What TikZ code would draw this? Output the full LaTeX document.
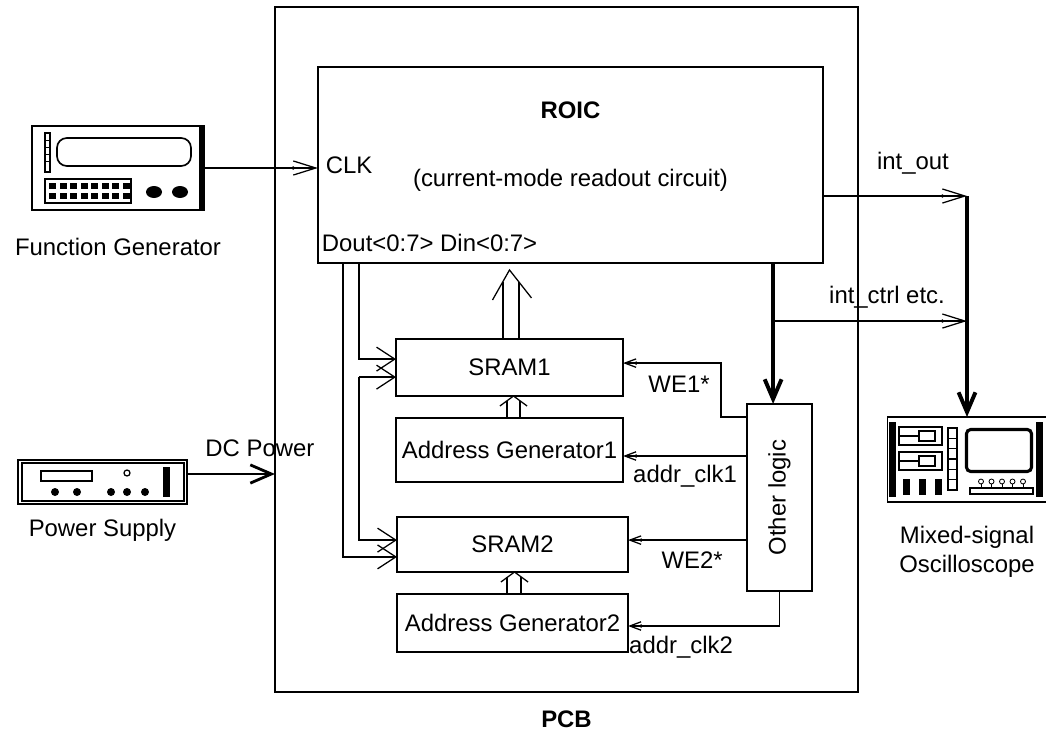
\documentclass[tikz,border=0pt]{standalone}
\usepackage{fontspec}
\setmainfont{Liberation Sans}
\usetikzlibrary{arrows.meta,positioning}

\begin{document}
\begin{tikzpicture}[x=0.025cm,y=-0.025cm,line width=0.9pt,
        every node/.style={font=\fontsize{17}{21}\selectfont,inner sep=0pt,outer sep=0pt}]
        \tikzstyle{blk}=[draw,rectangle,line width=0.9pt]
        \tikzstyle{sig}=[-{Latex[length=3pt,width=3pt,sep=-3pt]Straight Barb[length=16pt,width=10pt]}]
        \tikzstyle{busarr}=[-{Straight Barb[length=13pt,width=17pt]}]
        \tikzstyle{ctl}=[-{Latex[length=3pt,width=3pt,sep=-3pt]Straight Barb[length=8pt,width=6pt]}]
        \tikzstyle{heavy}=[line width=2.8pt,-{Straight Barb[length=14pt,width=12pt]}]
        \tikzstyle{pwr}=[line width=2pt,-{Straight Barb[length=15pt,width=13pt]}]
        \useasboundingbox (0,0) rectangle (1046,737);

        \node[blk,minimum width=14.575cm,minimum height=17.125cm] (pcb)   at (566.5,349.5) {};
        \node[blk,minimum width=12.625cm,minimum height=4.9cm]    (roic)  at (570.5,165)   {};
        \node[blk,minimum width=5.675cm,minimum height=1.425cm]   (sram1) at (509.5,367.5) {SRAM1};
        \node[blk,minimum width=5.675cm,minimum height=1.6cm]     (agen1) at (509.5,450)   {Address Generator1};
        \node[blk,minimum width=5.775cm,minimum height=1.375cm]   (sram2) at (512.5,544.5) {SRAM2};
        \node[blk,minimum width=5.775cm,minimum height=1.45cm]    (agen2) at (512.5,623)   {Address Generator2};
        \node[blk,minimum width=1.625cm,minimum height=4.675cm]   (logic) at (779.5,497.5) {};
        \node[rotate=90] (logictxt) at (logic) {Other logic};

        \node[font=\fontsize{17}{21}\selectfont\bfseries] (title) at ([yshift=-10.75mm]roic.north) {ROIC};
        \node (sub)  at ([yshift=-17.5mm]title)                  {(current-mode readout circuit)};
        \node[anchor=west] (clk) at ([xshift=2mm]roic.west)     {CLK};
        \node[anchor=base west] (pins) at ([xshift=1mm,yshift=3mm]roic.south west) {Dout<0:7> Din<0:7>};

        % instruments
        \node[draw,line width=1.4pt,minimum width=4.3cm,minimum height=2.1cm]   (fg)    at (118,168)   {};
        \node[draw,line width=1.2pt,minimum width=4.225cm,minimum height=1.1cm] (ps)    at (102.5,482) {};
        \node[draw,line width=1.2pt,minimum width=3.975cm,minimum height=2.125cm] (scope) at (967,459.5) {};

        \node (fglbl) at ([yshift=-9.25mm]fg.south) {Function Generator};
        \node (pslbl) at ([yshift=-6.5mm]ps.south)  {Power Supply};
        \node[align=center] (scopelbl) at ([yshift=-12.5mm]scope.south) {Mixed-signal\\Oscilloscope};
        \node[font=\fontsize{17}{21}\selectfont\bfseries] (pcblbl) at ([yshift=-6.75mm]pcb.south) {PCB};

        % function generator
        \begin{scope}[shift={(fg.center)}]
          \fill (81,-42) rectangle (86,42);
          \draw[line width=1pt] (-73,-35) rectangle (-68,4);
          \foreach \y in {-28,-21,-14,-7} \draw[line width=0.6pt] (-73,\y) -- (-68,\y);
          \draw[line width=1.2pt,rounded corners=7pt] (-61,-30) rectangle (73,-2);
          \draw[line width=1pt] (-73,11) rectangle (13,35);
          \foreach \i in {0,...,7} {
            \fill (-69+10.5*\i,15) rectangle ++(7,6);
            \fill (-69+10.5*\i,25) rectangle ++(7,6);
          }
          \fill (36,24) ellipse [x radius=8, y radius=6];
          \fill (62,24) ellipse [x radius=8, y radius=6];
        \end{scope}

        % power supply
        \begin{scope}[shift={(ps.center)}]
          \draw[line width=1pt] (-80.5,-19) rectangle (81.5,19);
          \draw[line width=1.4pt] (-61.5,-11) rectangle (-10.5,-1);
          \foreach \x in {-47.5,-25.5,8.5,24.5,42.5} \fill (\x,10) circle [radius=4];
          \draw (24.5,-9) circle [radius=3];
          \fill (60.5,-15) rectangle (67.5,15);
        \end{scope}

        % oscilloscope
        \begin{scope}[shift={(scope.center)}]
          \fill (-78,-37.5) rectangle (-71,37.5);
          \fill (69,-37.5) rectangle (76,37.5);
          \foreach \y in {-32.5,-7.5} {
            \draw[line width=1pt] (-68,\y) rectangle (-25,\y+18);
            \draw (-68,\y+9) -- (-48,\y+9);
            \draw[line width=1pt] (-48,\y+4) rectangle (-32,\y+14);
          }
          \foreach \i in {0,...,5} \draw (-19,-31.5+10.33*\i) rectangle ++(9,10.33);
          \draw[line width=2.2pt,rounded corners=3pt] (-0.5,-30) rectangle (64.5,12);
          \foreach \x in {-64,-48,-32} \fill (\x,19.5) rectangle ++(7,16);
          \draw[line width=1pt] (3,28.5) rectangle (66,34.5);
          \foreach \x in {14,24.5,35,45.5,56} {
            \draw[line width=0.6pt] (\x,22) circle [radius=2.5];
            \draw[line width=0.6pt] (\x,24.5) -- (\x,28.5);
          }
        \end{scope}

        % clock and power
        \draw[sig] (fg) -- (fg -| roic.west);
        \coordinate (pwrin) at ([yshift=2mm]ps.east -| pcb.west);
        \draw[pwr] ([yshift=2mm]ps.east) -- (pwrin);
        \node (dc) at ([xshift=-3.75mm,yshift=6.5mm]pwrin) {DC Power};

        % data buses
        \coordinate (doutA) at ([xshift=6.25mm]roic.south west);
        \coordinate (doutB) at ([xshift=10.25mm]roic.south west);
        \draw[busarr] (doutB) |- ([yshift=2.1mm]sram1.west);
        \coordinate (wr) at ([yshift=-2.4mm]sram1.west -| doutB);
        \draw[busarr] (wr) -- (wr -| sram1.west);
        \draw[busarr] (wr) |- ([yshift=1.1mm]sram2.west);
        \draw[busarr] (doutA) |- ([yshift=-3.1mm]sram2.west);

        \coordinate (din) at ([yshift=17.25mm]sram1.north);
        \draw ([xshift=-1.6mm]sram1.north) -- ++(0,-57);
        \draw ([xshift=2.4mm]sram1.north) -- ++(0,-57);
        \draw (din) ++(-17,30) -- (din) -- ++(22,28);

        \draw ([xshift=-0.6mm]agen1.north) -- ++(0,-17);
        \draw ([xshift=2.6mm]agen1.north) -- ++(0,-17);
        \draw ([xshift=-2.4mm,yshift=-2.5mm]sram1.south) -- ([xshift=1mm]sram1.south) -- ([xshift=4.4mm,yshift=-2.5mm]sram1.south);
        \draw ([xshift=-1.4mm]agen2.north) -- ++(0,-17);
        \draw ([xshift=2.1mm]agen2.north) -- ++(0,-17);
        \draw ([xshift=-2.9mm,yshift=-2.5mm]sram2.south) -- ([xshift=0.5mm]sram2.south) -- ([xshift=3.9mm,yshift=-2.5mm]sram2.south);

        % outputs to the scope
        \coordinate (logicin) at ([xshift=-1.6mm]logic.north);
        \draw[heavy] (logicin |- roic.south) -- (logicin);
        \coordinate (ctrltap) at ([yshift=-14.5mm]logicin |- roic.south);
        \coordinate (ctrlend) at (ctrltap -| scope.north);
        \coordinate (outtap)  at ([yshift=-7.75mm]roic.east);
        \coordinate (scopein) at (outtap -| scope.north);
        \draw[sig] (outtap) -- (scopein);
        \draw[sig] (ctrltap) -- (ctrlend);
        \draw[heavy] (scopein) -- (scope.north);
        \node (outlbl)  at ([xshift=-13.5mm,yshift=8.25mm]scopein) {int\_out};
        \node (ctrllbl) at ([xshift=-20mm,yshift=6mm]ctrlend)      {int\_ctrl etc.};

        % control lines
        \draw[ctl] ([yshift=-3.25mm]logic.north west) -- ++(-26,0) |- ([yshift=1.1mm]sram1.east);
        \draw[ctl] ([yshift=-1.5mm]agen1.east -| logic.west) -- ([yshift=-1.5mm]agen1.east);
        \draw[ctl] ([yshift=1.1mm]sram2.east -| logic.west) -- ([yshift=1.1mm]sram2.east);
        \draw[ctl] (logic.south) |- ([yshift=-0.75mm]agen2.east);
        \node (we1)  at ([xshift=14mm,yshift=-4.1mm]sram1.east)   {WE1*};
        \node (clk1) at ([xshift=15.5mm,yshift=-6.5mm]agen1.east) {addr\_clk1};
        \node (we2)  at ([xshift=16mm,yshift=-3.9mm]sram2.east)   {WE2*};
        \node (clk2) at ([xshift=13.25mm,yshift=-6mm]agen2.east)  {addr\_clk2};
\end{tikzpicture}
\end{document}
